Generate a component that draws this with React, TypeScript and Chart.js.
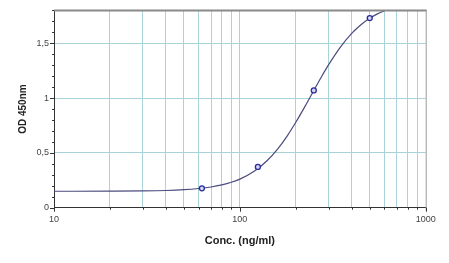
import React, { useEffect, useRef } from "react";
import { Chart, registerables } from "chart.js";

Chart.register(...registerables);

// Standard points (concentration ng/ml, OD 450nm)
const standardConc = [62.5, 125, 250, 500];
const standardOD = [0.177, 0.372, 1.07, 1.73];

// Fitted curve
const curveConc = [10, 20, 30, 40, 50, 60, 70, 80, 90, 100, 120, 140, 160, 180, 200, 225, 250, 275, 300, 350, 400, 450, 500, 550, 600];
const curveOD = [0.15, 0.151, 0.153, 0.157, 0.164, 0.175, 0.189, 0.208, 0.232, 0.261, 0.335, 0.428, 0.537, 0.656, 0.779, 0.929, 1.069, 1.195, 1.303, 1.472, 1.59, 1.671, 1.728, 1.768, 1.797];

// x axis ticks (log decades with their minor steps) and labelled values
const xTicks = [10, 20, 30, 40, 50, 60, 70, 80, 90, 100, 200, 300, 400, 500, 600, 700, 800, 900, 1000];
const xLabels = [10, 100, 1000];
const yMin = 0;
const yMax = 1.8;

const isHalf = (v: number) => Math.abs(v * 2 - Math.round(v * 2)) < 1e-6;
const isDecade = (v: number) => xLabels.some((d) => Math.abs(v - d) < 1e-6);

const framePlugin = {
  id: "frame",
  afterDraw(chart: any) {
    const ctx = chart.ctx;
    const { left, right, top, bottom } = chart.chartArea;
    ctx.save();
    ctx.strokeStyle = "#8a8a8a";
    ctx.lineWidth = 2;
    ctx.beginPath();
    ctx.moveTo(left, top);
    ctx.lineTo(right + 1, top);
    ctx.stroke();
    ctx.strokeStyle = "#9a9a9a";
    ctx.lineWidth = 1;
    ctx.beginPath();
    ctx.moveTo(right + 0.5, top);
    ctx.lineTo(right + 0.5, bottom + 3);
    ctx.stroke();
    ctx.strokeStyle = "#333";
    const ys = chart.scales.y;
    ys.ticks.forEach((t: any) => {
      const py = Math.round(ys.getPixelForValue(t.value)) + 0.5;
      const len = isHalf(t.value) ? 4 : 2;
      ctx.beginPath();
      ctx.moveTo(left - len, py);
      ctx.lineTo(left, py);
      ctx.stroke();
    });
    const xs = chart.scales.x;
    xs.ticks.forEach((t: any) => {
      const px = Math.round(xs.getPixelForValue(t.value)) + 0.5;
      const len = isDecade(t.value) ? 4 : 2;
      ctx.beginPath();
      ctx.moveTo(px, bottom);
      ctx.lineTo(px, bottom + len);
      ctx.stroke();
    });
    ctx.restore();
  },
};

export default function App() {
  const ref = useRef<HTMLCanvasElement>(null);

  useEffect(() => {
    if (!ref.current) return;
    const chart = new Chart(ref.current, {
      type: "scatter",
      data: {
        datasets: [
          {
            label: "curve",
            data: curveConc.map((x, i) => ({ x, y: curveOD[i] })),
            showLine: true,
            borderColor: "#4b4b7e",
            borderWidth: 1.2,
            pointRadius: 0,
            cubicInterpolationMode: "monotone",
            order: 2,
          },
          {
            label: "standards",
            data: standardConc.map((x, i) => ({ x, y: standardOD[i] })),
            showLine: false,
            pointRadius: 2.5,
            pointBorderWidth: 1.3,
            pointBorderColor: "#2b2b9c",
            pointBackgroundColor: "#d4d4f4",
            order: 1,
          },
        ],
      },
      options: {
        responsive: false,
        animation: false,
        layout: { padding: { left: 0, top: 8.6, right: 23.3, bottom: 0 } },
        plugins: { legend: { display: false }, tooltip: { enabled: false } },
        scales: {
          x: {
            type: "logarithmic",
            min: 10,
            max: 1000,
            afterBuildTicks: (s: any) => {
              s.ticks = xTicks.map((v) => ({ value: v, major: isDecade(v) }));
            },
            afterFit: (s: any) => {
              s.height = 55.3;
            },
            border: { color: "#333", width: 1 },
            grid: {
              drawTicks: false,
              color: (c: any) =>
                c.tick && (Math.abs(c.tick.value - 10) < 1e-6 || Math.abs(c.tick.value - 1000) < 1e-6)
                  ? "rgba(0,0,0,0)"
                  : "#a9d2d9",
              lineWidth: 1,
            },
            ticks: {
              autoSkip: false,
              maxRotation: 0,
              padding: 6,
              color: "#444",
              font: { family: "Liberation Sans, Arial, sans-serif", size: 9 },
              callback: (v: any) => (isDecade(Number(v)) ? String(v) : ""),
            },
            title: {
              display: true,
              text: "Conc. (ng/ml)",
              color: "#222",
              font: { family: "Liberation Sans, Arial, sans-serif", size: 11, weight: "bold" },
              padding: { top: 0, bottom: 15.4 },
            },
          },
          y: {
            type: "linear",
            min: yMin,
            max: yMax,
            afterFit: (s: any) => {
              s.width = 54;
            },
            border: { color: "#333", width: 1 },
            grid: {
              drawTicks: false,
              color: (c: any) =>
                c.tick && isHalf(c.tick.value) && c.tick.value > 0.01 ? "#a9d2d9" : "rgba(0,0,0,0)",
              lineWidth: 1,
            },
            ticks: {
              stepSize: 0.1,
              autoSkip: false,
              includeBounds: false,
              padding: 5,
              color: "#444",
              font: { family: "Liberation Sans, Arial, sans-serif", size: 9 },
              callback: (v: any) => {
                const n = Number(v);
                if (!isHalf(n)) return "";
                return String(Math.round(n * 2) / 2).replace(".", ",");
              },
            },
            title: {
              display: true,
              text: "OD 450nm",
              color: "#222",
              font: { family: "Liberation Sans, Arial, sans-serif", size: 10, weight: "bold" },
              padding: { top: 17, bottom: 0 },
            },
          },
        },
      },
      plugins: [framePlugin],
    });
    return () => chart.destroy();
  }, []);

  return (
    <div style={{ position: "absolute", left: 0, top: 0, width: 449, height: 263, background: "#fff" }}>
      <canvas ref={ref} width={449} height={263} style={{ width: 449, height: 263, display: "block" }} />
    </div>
  );
}
